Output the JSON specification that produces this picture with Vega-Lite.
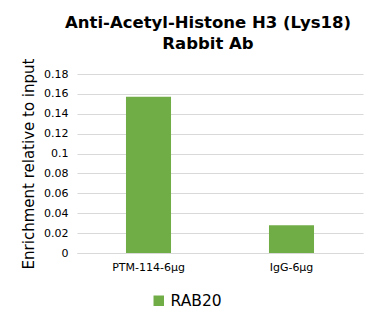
{
  "$schema": "https://vega.github.io/schema/vega-lite/v6.json",
  "width": 286,
  "height": 179,
  "autosize": {"type": "none"},
  "padding": {"left": 77, "top": 74, "right": 15, "bottom": 71},
  "background": "white",
  "title": {
    "text": ["Anti-Acetyl-Histone H3 (Lys18)", "Rabbit Ab"],
    "font": "DejaVu Sans",
    "fontSize": 16.5,
    "fontWeight": "bold",
    "color": "#000000",
    "anchor": "middle",
    "dx": -12,
    "offset": 6,
    "lineHeight": 21
  },
  "data": {
    "values": [
      {"sample": "PTM-114-6μg", "series": "RAB20", "enrichment": 0.157},
      {"sample": "IgG-6μg", "series": "RAB20", "enrichment": 0.028}
    ]
  },
  "mark": {"type": "bar"},
  "encoding": {
    "x": {
      "field": "sample",
      "type": "nominal",
      "sort": null,
      "scale": {"paddingInner": 0.685, "paddingOuter": 0.3425},
      "axis": {
        "title": null,
        "labelAngle": 0,
        "labelFont": "DejaVu Sans",
        "labelFontSize": 11,
        "labelColor": "#000000",
        "labelPadding": 8,
        "ticks": false,
        "domainColor": "#d9d9d9"
      }
    },
    "y": {
      "field": "enrichment",
      "type": "quantitative",
      "scale": {"domain": [0, 0.18], "nice": false},
      "axis": {
        "title": "Enrichment relative to input",
        "titleFont": "DejaVu Sans",
        "titleFontSize": 15,
        "titleFontWeight": "normal",
        "titleColor": "#000000",
        "titlePadding": 7,
        "values": [0, 0.02, 0.04, 0.06, 0.08, 0.1, 0.12, 0.14, 0.16, 0.18],
        "labelExpr": "datum.value == 0 ? '0' : format(datum.value, '.2~f')",
        "labelFont": "DejaVu Sans",
        "labelFontSize": 11,
        "labelColor": "#000000",
        "labelPadding": 9,
        "ticks": false,
        "domain": false,
        "grid": true,
        "gridColor": "#d9d9d9"
      }
    },
    "color": {
      "field": "series",
      "type": "nominal",
      "scale": {"range": ["#70AD47"]},
      "legend": {
        "title": null,
        "orient": "none",
        "legendX": 74,
        "legendY": 219,
        "symbolType": "square",
        "symbolSize": 110,
        "labelFont": "DejaVu Sans",
        "labelFontSize": 15.5,
        "labelColor": "#000000"
      }
    }
  },
  "config": {"view": {"stroke": null}}
}
